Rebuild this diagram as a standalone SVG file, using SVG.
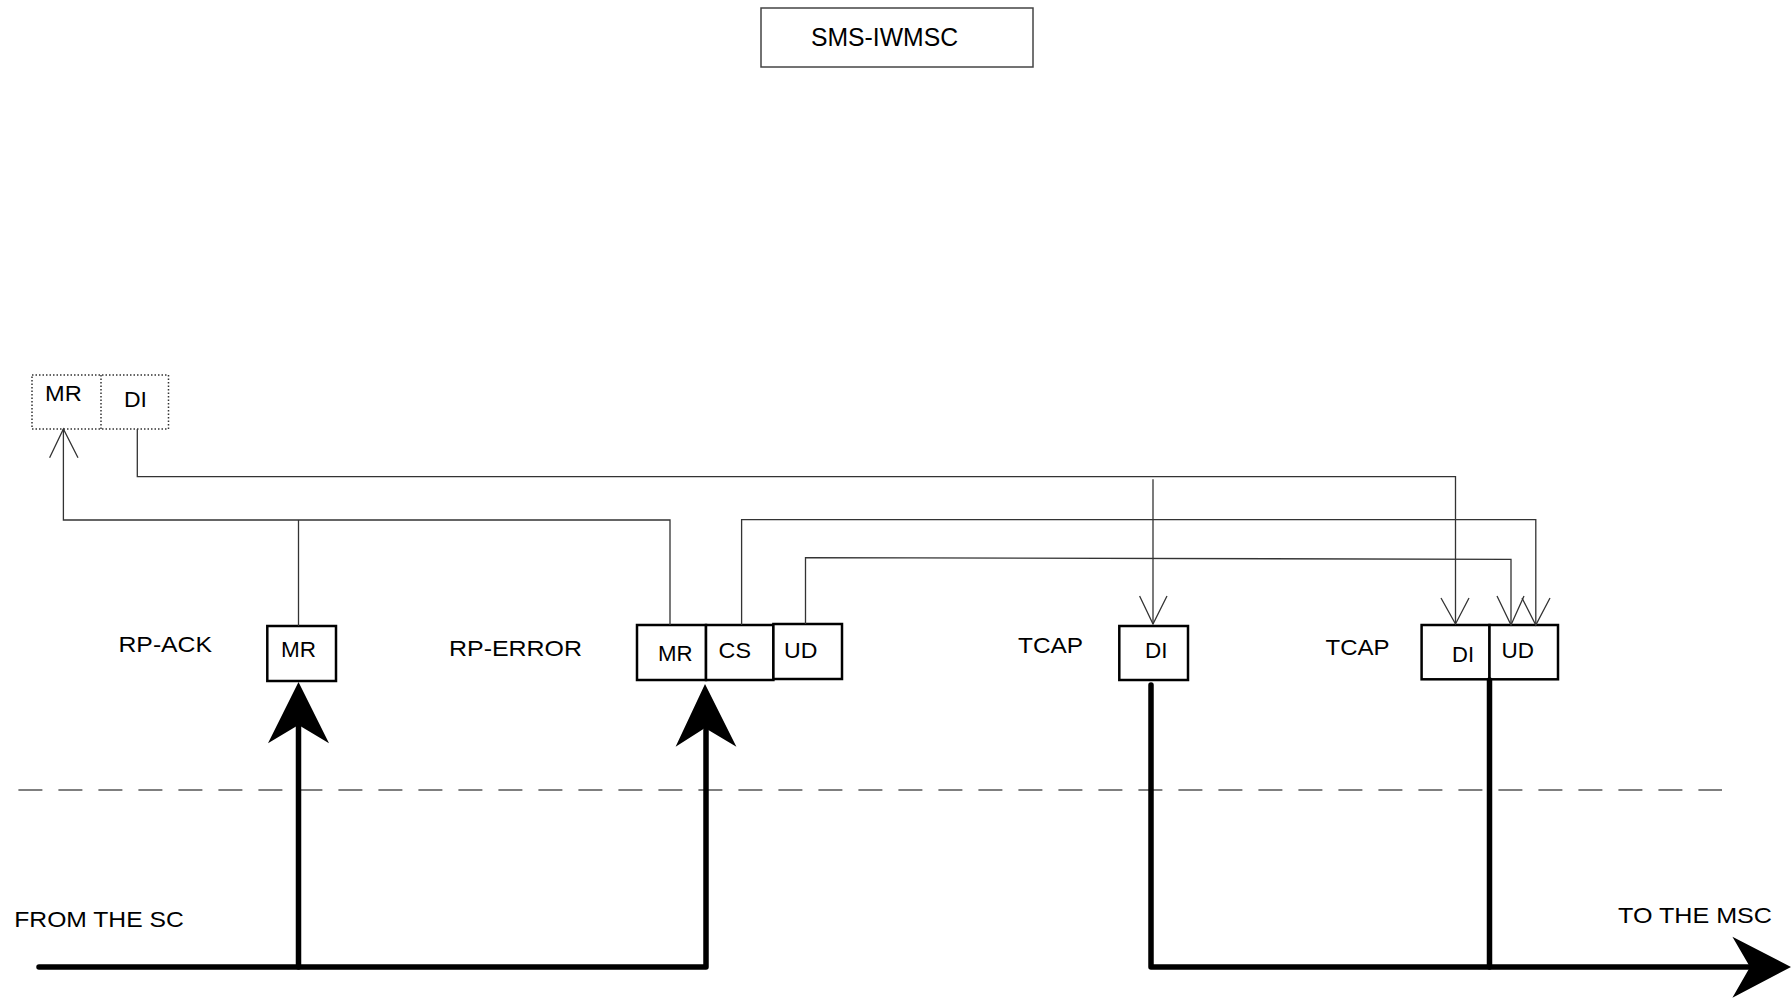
<svg xmlns="http://www.w3.org/2000/svg" width="1791" height="999" viewBox="0 0 1791 999">
<style>
text{font-family:"Liberation Sans",Arial,sans-serif;font-size:22px;fill:#000;lengthAdjust:spacing}
.box{fill:#fff;stroke:#000;stroke-width:2.5}
.thin{fill:none;stroke:#333;stroke-width:1.3}
.thick{fill:none;stroke:#000;stroke-width:5.5;stroke-linecap:round;stroke-linejoin:round}
.head{fill:#000;stroke:none}
</style>
<rect width="1791" height="999" fill="#fff"/>
<g id="sms-iwmsc">
<rect x="761" y="8" width="272" height="59" fill="#fff" stroke="#444" stroke-width="1.5"/>
<text x="811" y="46" style="font-size:25px" textLength="147" lengthAdjust="spacingAndGlyphs">SMS-IWMSC</text>
</g>
<g id="result">
<rect x="32" y="375" width="136.5" height="54" fill="#fff" stroke="#333" stroke-width="1.5" stroke-dasharray="1.5 2"/>
<line x1="101" y1="375" x2="101" y2="429" stroke="#333" stroke-width="1.5" stroke-dasharray="1.5 2"/>
<text x="45" y="401" textLength="36.7" lengthAdjust="spacingAndGlyphs">MR</text>
<text x="124" y="407" textLength="23" lengthAdjust="spacingAndGlyphs">DI</text>
</g>
<g id="rp-ack">
<text x="118.5" y="652" textLength="93.5" lengthAdjust="spacingAndGlyphs">RP-ACK</text>
<rect class="box" x="267.3" y="626" width="68.7" height="55"/>
<text x="281" y="657" textLength="35" lengthAdjust="spacingAndGlyphs">MR</text>
</g>
<g id="rp-error">
<text x="449" y="656" textLength="133" lengthAdjust="spacingAndGlyphs">RP-ERROR</text>
<rect class="box" x="637" y="625" width="69" height="55"/>
<rect class="box" x="706" y="625" width="67.4" height="55"/>
<rect class="box" x="773.4" y="624" width="68.6" height="55"/>
<text x="658" y="661" textLength="34.6" lengthAdjust="spacingAndGlyphs">MR</text>
<text x="718.6" y="658" textLength="32.4" lengthAdjust="spacingAndGlyphs">CS</text>
<text x="784" y="658" textLength="33.4" lengthAdjust="spacingAndGlyphs">UD</text>
</g>
<g id="tcap1">
<text x="1018" y="653" textLength="65" lengthAdjust="spacingAndGlyphs">TCAP</text>
<rect class="box" x="1119.3" y="626" width="68.7" height="54"/>
<text x="1145" y="658" textLength="22.5" lengthAdjust="spacingAndGlyphs">DI</text>
</g>
<g id="tcap2">
<text x="1325.5" y="655" textLength="64" lengthAdjust="spacingAndGlyphs">TCAP</text>
<rect class="box" x="1421.6" y="625" width="67.9" height="54.3"/>
<rect class="box" x="1489.5" y="625" width="68.5" height="54.3"/>
<text x="1452" y="662" textLength="22" lengthAdjust="spacingAndGlyphs">DI</text>
<text x="1501.5" y="658" textLength="32.5" lengthAdjust="spacingAndGlyphs">UD</text>
</g>
<g id="labels">
<text x="14.3" y="927" textLength="169.4" lengthAdjust="spacingAndGlyphs">FROM THE SC</text>
<text x="1618" y="923" textLength="154" lengthAdjust="spacingAndGlyphs">TO THE MSC</text>
</g>
<g id="connectors">
<path class="thin" d="M298.5,626 V520"/>
<path class="thin" d="M670,625 V520 H63.4 V429"/>
<polyline class="thin" points="49.6,457.7 63.4,429 78,457.7"/>
<path class="thin" d="M137.3,429 V476.7 H1455.5 V624"/>
<polyline class="thin" points="1441,598 1455.5,624 1469,598"/>
<path class="thin" d="M1153,479.3 V624"/>
<polyline class="thin" points="1139.6,596 1153,624 1167,596"/>
<path class="thin" d="M741.6,625 V519.7 H1535.8 V625"/>
<polyline class="thin" points="1522,598 1535.8,625 1550,598"/>
<path class="thin" d="M805.5,624 V557.7 L1511,559.3 V625"/>
<polyline class="thin" points="1497,596 1511,625 1524,596"/>
<line x1="18.4" y1="790" x2="1722" y2="790" stroke="#000" stroke-width="1.2" stroke-dasharray="24 16"/>
<path class="thick" d="M39,967 H706 V730"/>
<path class="thick" d="M298.5,967 V727"/>
<polygon class="head" points="298.5,682 329,743.3 298.5,725 268,743.3"/>
<polygon class="head" points="705,684 736.4,746.7 705,728 675.6,746.7"/>
<path class="thick" d="M1151,685 V967 H1752"/>
<path class="thick" d="M1489.5,680 V967"/>
<polygon class="head" points="1791,967 1732.4,936.7 1750,967 1732.4,997.7"/>
</g>
</svg>
